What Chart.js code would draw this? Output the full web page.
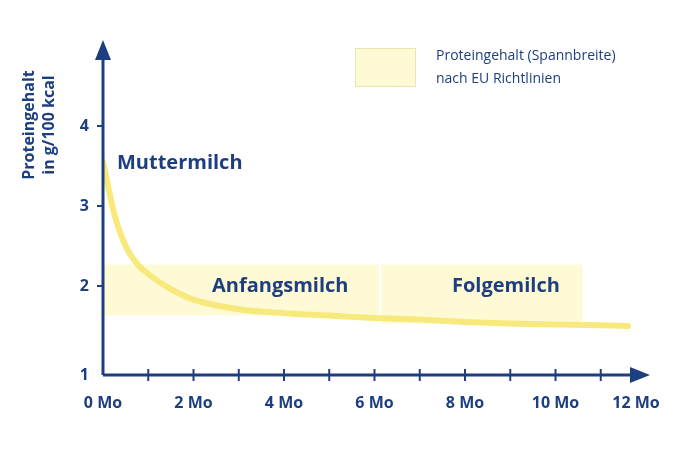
<!DOCTYPE html>
<html>
<head>
<meta charset="utf-8">
<script src="https://cdn.jsdelivr.net/npm/chart.js@4"></script>
<style>
  body { margin: 0; background: #fff; }
  #wrap { width: 680px; height: 450px; }
</style>
</head>
<body>
<div id="wrap"><canvas id="chart"></canvas></div>
<script>
const months = [0, 0.25, 0.5, 0.75, 1, 1.5, 2, 3, 4, 5, 6, 7, 8, 9, 10, 11, 11.6];
const protein = [3.55, 2.9, 2.5, 2.28, 2.15, 1.96, 1.83, 1.71, 1.66, 1.63, 1.6, 1.58, 1.55, 1.53, 1.52, 1.51, 1.5];
const anfangsBand = { from: 0, to: 6.1, low: 1.63, high: 2.27 };
const folgeBand = { from: 6.15, to: 10.6, low: 1.53, high: 2.27 };
const xTicks = [0, 2, 4, 6, 8, 10, 12];
const yTicks = [2, 3, 4];
const yMin = 0.8875;

const navy = '#1d3f80';
const bandColor = '#fefad6';
const lineColor = '#f8e97c';
const font = '"Open Sans", "DejaVu Sans", sans-serif';

function bandSets(b) {
    return [
        { data: [{ x: b.from, y: b.high }, { x: b.to, y: b.high }], borderWidth: 0, pointRadius: 0, fill: false, order: 2 },
        { data: [{ x: b.from, y: b.low }, { x: b.to, y: b.low }], borderWidth: 0, pointRadius: 0, fill: '-1', backgroundColor: bandColor, order: 2 }
    ];
}

const axesPlugin = {
    id: 'axes',
    afterDraw(chart) {
        const ctx = chart.ctx;
        const xs = chart.scales.x, ys = chart.scales.y;
        const x0 = xs.getPixelForValue(0), y0 = ys.getPixelForValue(yMin);
        ctx.save();
        ctx.strokeStyle = navy; ctx.fillStyle = navy; ctx.lineWidth = 3;
        ctx.beginPath(); ctx.moveTo(x0, y0); ctx.lineTo(638, y0); ctx.stroke();
        ctx.beginPath(); ctx.moveTo(x0, y0); ctx.lineTo(x0, 52); ctx.stroke();
        ctx.beginPath(); ctx.moveTo(650, y0); ctx.lineTo(630, y0 - 8); ctx.lineTo(630, y0 + 8); ctx.fill();
        ctx.beginPath(); ctx.moveTo(x0, 40); ctx.lineTo(x0 - 8, 60); ctx.lineTo(x0 + 8, 60); ctx.fill();
        ctx.lineWidth = 2;
        for (let m = 1; m <= 11; m++) {
            const px = xs.getPixelForValue(m);
            ctx.beginPath(); ctx.moveTo(px, y0 - 6); ctx.lineTo(px, y0 + 6); ctx.stroke();
        }
        ctx.font = 'bold 16px ' + font;
        ctx.textAlign = 'center'; ctx.textBaseline = 'top';
        xTicks.forEach(m => ctx.fillText(m + ' Mo', Math.min(xs.getPixelForValue(m), 636), y0 + 20));
        ctx.textAlign = 'right'; ctx.textBaseline = 'middle';
        ctx.fillText('1', x0 - 14, y0);
        yTicks.forEach(v => {
            const py = ys.getPixelForValue(v);
            ctx.beginPath(); ctx.moveTo(x0 - 6, py); ctx.lineTo(x0, py); ctx.stroke();
            ctx.fillText(String(v), x0 - 14, py);
        });
        ctx.save();
        ctx.translate(38, 125); ctx.rotate(-Math.PI / 2);
        ctx.textAlign = 'center'; ctx.font = 'bold 16px ' + font;
        ctx.fillText('Proteingehalt', 0, -9);
        ctx.fillText('in g/100 kcal', 0, 11);
        ctx.restore();
        ctx.font = 'bold 20px ' + font; ctx.textAlign = 'left';
        ctx.fillText('Muttermilch', 117, 163);
        ctx.fillText('Anfangsmilch', 212, 286);
        ctx.fillText('Folgemilch', 452, 286);
        ctx.fillStyle = bandColor; ctx.fillRect(355, 48, 60, 38);
        ctx.strokeStyle = '#ece4b0'; ctx.lineWidth = 1; ctx.strokeRect(355.5, 48.5, 60, 38);
        ctx.fillStyle = navy; ctx.font = '14px ' + font;
        ctx.fillText('Proteingehalt (Spannbreite)', 436, 56);
        ctx.fillText('nach EU Richtlinien', 436, 79);
        ctx.restore();
    }
};

new Chart(document.getElementById('chart'), {
    type: 'line',
    data: {
        datasets: [
            ...bandSets(anfangsBand),
            ...bandSets(folgeBand),
            {
                data: months.map((m, i) => ({ x: m, y: protein[i] })),
                borderColor: lineColor, borderWidth: 6, pointRadius: 0, order: 0,
                cubicInterpolationMode: 'monotone', fill: false, borderCapStyle: 'round'
            }
        ]
    },
    options: {
        responsive: true,
        maintainAspectRatio: false,
        animation: false,
        layout: { padding: { left: 103, right: 34, top: 47, bottom: 75 } },
        plugins: { legend: { display: false }, tooltip: { enabled: false } },
        scales: {
            x: { type: 'linear', min: 0, max: 12, display: false },
            y: { min: yMin, max: 4.9875, display: false }
        }
    },
    plugins: [axesPlugin]
});
</script>
</body>
</html>
